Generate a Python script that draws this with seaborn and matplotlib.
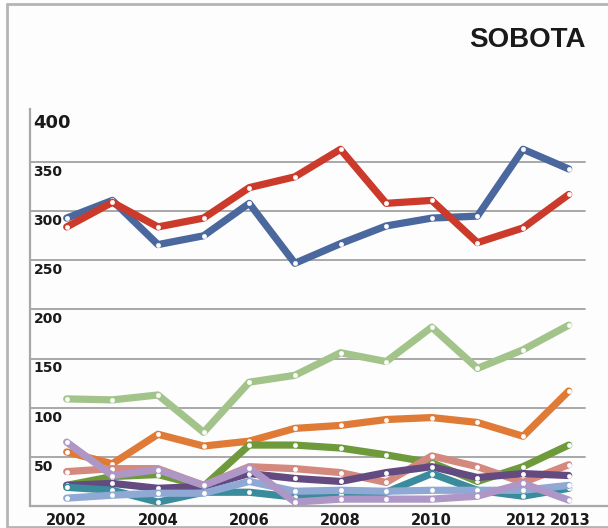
import matplotlib
matplotlib.use("Agg")
import matplotlib.pyplot as plt
from matplotlib.lines import Line2D
from matplotlib.transforms import ScaledTranslation
import seaborn as sns

sns.set_theme(style="white")
plt.rcParams["font.family"] = ["DejaVu Sans"]

years = [2002, 2003, 2004, 2005, 2006, 2007, 2008, 2009, 2010, 2011, 2012, 2013]

line_blue = [293, 311, 266, 275, 308, 247, 267, 285, 293, 295, 363, 343]
line_red = [284, 309, 284, 293, 324, 335, 363, 308, 311, 268, 283, 317]
line_light_green = [109, 108, 113, 75, 126, 133, 156, 147, 182, 140, 159, 184]
line_orange = [55, 43, 73, 61, 66, 79, 82, 88, 90, 85, 71, 117]
line_dark_green = [21, 30, 32, 20, 62, 62, 59, 52, 44, 25, 40, 62]
line_pink = [35, 38, 38, 21, 40, 38, 34, 24, 51, 40, 24, 42]
line_purple = [21, 23, 18, 20, 33, 28, 25, 34, 40, 29, 33, 31]
line_teal = [19, 16, 4, 14, 14, 9, 12, 14, 33, 16, 10, 18]
line_periwinkle = [8, 11, 13, 13, 25, 15, 16, 15, 16, 16, 16, 21]
line_lavender = [65, 31, 37, 21, 39, 4, 7, 7, 7, 10, 23, 6]

x_tick_labels = [2002, 2004, 2006, 2008, 2010, 2012, 2013]
y_tick_labels = [50, 100, 150, 200, 250, 300, 350]
title = "SOBOTA"

series = [
    (line_blue, "#4A679E"),
    (line_red, "#CB3A2A"),
    (line_light_green, "#A2C48A"),
    (line_orange, "#DF7B37"),
    (line_dark_green, "#6E9A3C"),
    (line_pink, "#D4897F"),
    (line_purple, "#634B82"),
    (line_teal, "#3A8B9C"),
    (line_periwinkle, "#8FA9D4"),
    (line_lavender, "#AE97C6"),
]

fig = plt.figure(figsize=(6.08, 5.28), dpi=100)
fig.patch.set_facecolor("#FDFDFD")

W, H = 608, 528
ax = fig.add_axes([30 / W, 22 / H, (W - 30) / W, (506 - 109) / H])
ax.set_facecolor("#FDFDFD")

# horizontal gridlines stop short of the right edge
for v in y_tick_labels:
    ax.axhline(v, xmin=0, xmax=(585 - 30) / (W - 30), color="#A8A8A8", lw=1.4, zorder=1)

for vals, col in series:
    sns.lineplot(x=years, y=vals, color=col, lw=5.2, marker="o", markersize=3.2,
                 markerfacecolor="white", markeredgecolor="white", markeredgewidth=0.3,
                 solid_capstyle="round", solid_joinstyle="round", ax=ax, zorder=3)

ax.set_xlim(2002 - (66.7 - 30) / 45.64, 2013 + (W - 568.7) / 45.64)
ax.set_ylim(0, 404)

for side in ["top", "right"]:
    ax.spines[side].set_visible(False)
ax.spines["left"].set_color("#A8A8A8")
ax.spines["left"].set_linewidth(1.6)
ax.spines["bottom"].set_color("#A8A8A8")
ax.spines["bottom"].set_linewidth(1.6)

ax.set_yticks([])
ax.set_xticks(x_tick_labels)
ax.set_xticklabels([str(v) for v in x_tick_labels], fontsize=10.5, fontweight="bold", color="#1A1A1A")
ax.tick_params(axis="x", length=0, pad=5)
ax.set_xlabel("")
ax.set_ylabel("")

# nudge the last two year labels apart so they do not crowd each other
xlabels = ax.get_xticklabels()
xlabels[-2].set_transform(xlabels[-2].get_transform() + ScaledTranslation(3 / 100, 0, fig.dpi_scale_trans))
xlabels[-1].set_transform(xlabels[-1].get_transform() + ScaledTranslation(2 / 100, 0, fig.dpi_scale_trans))

# value labels sit inside the plot, just beneath each gridline
ytrans = ax.get_yaxis_transform()
for v in y_tick_labels:
    ax.annotate(str(v), xy=(0, v), xycoords=ytrans, xytext=(2.5, -2.0), textcoords="offset points",
                ha="left", va="top", fontsize=10, fontweight="bold", color="#1A1A1A")
ax.annotate("400", xy=(0, 404), xycoords=ytrans, xytext=(2.5, -3.5), textcoords="offset points",
            ha="left", va="top", fontsize=13, fontweight="bold", color="#1A1A1A")

fig.text(586 / W, 1 - 46.7 / H, title, ha="right", va="baseline", fontsize=20,
         fontweight="bold", family=["Liberation Sans", "DejaVu Sans"], color="#1A1A1A")

# outer frame on the left, top and bottom
frame_kw = dict(color="#B5B5B5", lw=2.0, transform=fig.transFigure)
fig.add_artist(Line2D([7 / W, 7 / W], [1 / H, 1 - 4 / H], **frame_kw))
fig.add_artist(Line2D([7 / W, 1], [1 - 4 / H, 1 - 4 / H], **frame_kw))
fig.add_artist(Line2D([7 / W, 1], [1 / H, 1 / H], **frame_kw))

fig.savefig("out.png", dpi=100, facecolor=fig.get_facecolor())
